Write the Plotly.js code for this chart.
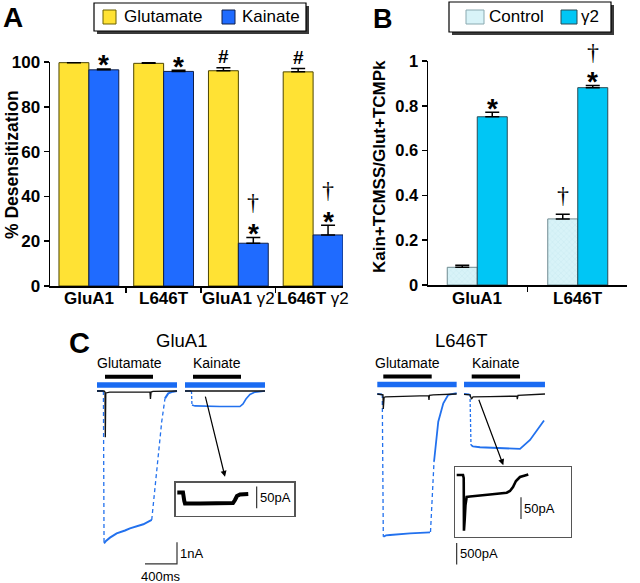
<!DOCTYPE html>
<html><head><meta charset="utf-8">
<script src="https://cdn.plot.ly/plotly-3.0.1.min.js"></script>
<style>html,body{margin:0;padding:0;background:#fff}#chart{width:640px;height:583px}</style>
</head><body><div id="chart"></div>
<script>
// ---------------- Panel A: % desensitization ----------------
const aGroups = ['GluA1', 'L646T', 'GluA1 γ2', 'L646T γ2'];
const aGlutVals = [99.7, 99.4, 96.1, 95.6];
const aGlutErr  = [0.2, 0.3, 1.3, 1.5];
const aKainVals = [96.5, 95.8, 19.1, 22.8];
const aKainErr  = [0.4, 0.5, 2.6, 4.3];
const aKainStar   = [true, true, true, true];
const aKainDagger = [false, false, true, true];
const aGlutHash   = [false, false, true, true];
const aYTicks = [0, 20, 40, 60, 80, 100];

// ---------------- Panel B: ratio ----------------
const bGroups = ['GluA1', 'L646T'];
const bCtlVals = [0.079, 0.295];
const bCtlErr  = [0.009, 0.021];
const bG2Vals  = [0.751, 0.881];
const bG2Err   = [0.020, 0.010];
const bG2Star    = [true, true];
const bG2Dagger  = [false, true];
const bCtlDagger = [false, true];
const bYTicks = [0, 0.2, 0.4, 0.6, 0.8, 1];

// ---------------- Panel C: current traces (time ms, current nA) ----------------
// GluA1 - glutamate sweep
const a1GluCtlT = [0, 88, 100, 104, 110, 160, 400, 662, 668, 676, 700, 1000];
const a1GluCtlI = [0, 0, -0.05, -2.14, -0.09, -0.05, -0.05, -0.05, -0.37, -0.05, -0.02, 0];
const a1GluG2SolidT = [0, 78, null, 88, 112, 162, 246, 350, 412, 579, 684, null, 850, 891, 950, 1000];
const a1GluG2SolidI = [0, 0, null, -7.05, -6.94, -6.79, -6.59, -6.46, -6.36, -6.17, -5.97, null, -0.34, -0.11, -0.03, 0];
const a1GluG2DashT = [80, 88, null, 684, 725, 766, 809, 850];
const a1GluG2DashI = [0, -7.05, null, -5.97, -4.49, -3.10, -1.42, -0.34];
// GluA1 - kainate sweep
const a1KaiCtlT = [1100, 1500, 2100];
const a1KaiCtlI = [0, 0, 0];
const a1KaiG2SolidT = [1100, 1178, null, 1187, 1225, 1537, 1787, 1825, 1862, 1912, 1975, 2100];
const a1KaiG2SolidI = [0, 0, null, -0.65, -0.69, -0.72, -0.72, -0.60, -0.37, -0.16, -0.05, 0];
const a1KaiG2DashT = [1181, 1187];
const a1KaiG2DashI = [0, -0.65];
const a1Sweeps = [[0, 1000], [1100, 2100]];
const a1GluApp = [100, 700];
const a1KaiApp = [1200, 1800];
// GluA1 inset (kainate, control; time ms, current pA)
const a1InsetT = [20, 91, 107, 116, 304, 491, 716, 741, 766, 804, 907];
const a1InsetI = [2.3, 2.3, -17, -23, -23, -22, -22, -15, -5.8, -2.3, -1.2];

// L646T - glutamate sweep
const tGluCtlT = [0, 34, 71, 75, 85, 100, 300, 640, 646, 652, 700, 800, 992];
const tGluCtlI = [0, -0.01, -0.02, -0.35, -0.08, -0.07, -0.06, -0.04, -0.14, -0.03, -0.02, -0.01, 0];
const tGluG2SolidT = [0, 59, null, 77, 109, 159, 409, 659, null, 709, 762, 825, 887, 992];
const tGluG2SolidI = [0, -0.01, null, -3.35, -3.32, -3.31, -3.27, -3.25, null, -1.59, -0.65, -0.22, -0.02, 0.02];
const tGluG2DashT = [62, 75, null, 665, 687, 709];
const tGluG2DashI = [0, -3.35, null, -3.24, -2.49, -1.59];
// L646T - kainate sweep
const tKaiCtlT = [1084, 1159, 1177, 1196, 1409, 1746, 1750, 1759, 2096];
const tKaiCtlI = [-0.01, -0.02, -0.12, -0.07, -0.06, -0.05, -0.12, -0.03, 0];
const tKaiG2SolidT = [1084, 1152, null, 1171, 1196, 1284, 1534, 1784, 1909, 2084];
const tKaiG2SolidI = [0, -0.01, null, -1.20, -1.23, -1.25, -1.27, -1.29, -1.08, -0.62];
const tKaiG2DashT = [1159, 1171];
const tKaiG2DashI = [0, -1.20];
const tSweeps = [[0, 992], [1084, 2096]];
const tGluApp = [75, 680];
const tKaiApp = [1180, 1784];
// L646T inset (pA)
const tInsetT = [21, 100, 109, 112, 121, 131, 146, 187, 437, 646, 687, 725, 762, 812, 875, 916];
const tInsetI = [0, 0, -7, -128, -103.5, -69, -50.6, -49.5, -44.9, -40.7, -36.8, -27.6, -13.8, -4.6, -1.2, 1.2];

// scale bars
const a1ScaleMs = 400, a1ScaleNA = 1;
const tScaleNA = 0.5;
const insetScalePA = 50;

// ---------------- helpers ----------------
const W = 640, H = 583;
const px = x => x / W;
const py = y => 1 - y / H;
const FONT = 'Liberation Sans, Arial, Helvetica, sans-serif';
const SERIF = 'Liberation Serif, Times New Roman, serif';
const YEL = '#ffe234', BLU = '#1f6bff', CTL = '#d8f3f8', G2 = '#00c6f5';
const TRBLUE = '#2271ee';
const zeros = n => new Array(n).fill(0);
const idx = arr => arr.map((_, i) => i);

const traces = [];
// Panel A bars
traces.push({type: 'bar', x: idx(aGroups), y: aGlutVals, width: 0.4, offset: -0.4, xaxis: 'x', yaxis: 'y',
  marker: {color: YEL, line: {color: '#4d4500', width: 1}},
  error_y: {type: 'data', array: aGlutErr, arrayminus: zeros(4), symmetric: false, color: '#000', thickness: 1.5, width: 7},
  hoverinfo: 'skip', showlegend: false});
traces.push({type: 'bar', x: idx(aGroups), y: aKainVals, width: 0.4, offset: 0, xaxis: 'x', yaxis: 'y',
  marker: {color: BLU, line: {color: '#10204a', width: 1}},
  error_y: {type: 'data', array: aKainErr, arrayminus: zeros(4), symmetric: false, color: '#000', thickness: 1.5, width: 7},
  hoverinfo: 'skip', showlegend: false});
// Panel B bars
traces.push({type: 'bar', x: idx(bGroups), y: bCtlVals, width: 0.2985, offset: -0.2985, xaxis: 'x2', yaxis: 'y2',
  marker: {color: CTL, line: {color: '#6f8a90', width: 1},
    pattern: {shape: 'x', fgcolor: '#bfe4ec', bgcolor: CTL, size: 4, solidity: 0.15}},
  error_y: {type: 'data', array: bCtlErr, arrayminus: zeros(2), symmetric: false, color: '#000', thickness: 1.5, width: 7},
  hoverinfo: 'skip', showlegend: false});
traces.push({type: 'bar', x: idx(bGroups), y: bG2Vals, width: 0.2985, offset: 0, xaxis: 'x2', yaxis: 'y2',
  marker: {color: G2, line: {color: '#2b4b55', width: 1}},
  error_y: {type: 'data', array: bG2Err, arrayminus: zeros(2), symmetric: false, color: '#000', thickness: 1.5, width: 7},
  hoverinfo: 'skip', showlegend: false});

function line(x, y, xa, ya, color, width, dash) {
  traces.push({type: 'scatter', mode: 'lines', x: x, y: y, xaxis: xa, yaxis: ya,
    line: {color: color, width: width, dash: dash || 'solid'}, connectgaps: false,
    hoverinfo: 'skip', showlegend: false});
}
// application bars (heights given in current units of each panel)
a1Sweeps.forEach(s => line(s, [0.28, 0.28], 'x3', 'y3', '#1a6bf2', 5.5));
line(a1GluApp, [0.66, 0.66], 'x3', 'y3', '#000', 4);
line(a1KaiApp, [0.66, 0.66], 'x3', 'y3', '#000', 4);
tSweeps.forEach(s => line(s, [0.22, 0.22], 'x4', 'y4', '#1a6bf2', 5.5));
line(tGluApp, [0.41, 0.41], 'x4', 'y4', '#000', 4);
line(tKaiApp, [0.41, 0.41], 'x4', 'y4', '#000', 4);
// GluA1 traces
line(a1GluG2SolidT, a1GluG2SolidI, 'x3', 'y3', TRBLUE, 2);
line(a1GluG2DashT, a1GluG2DashI, 'x3', 'y3', TRBLUE, 1.3, '4px,3px');
line(a1KaiG2SolidT, a1KaiG2SolidI, 'x3', 'y3', TRBLUE, 1.6);
line(a1KaiG2DashT, a1KaiG2DashI, 'x3', 'y3', TRBLUE, 1.3, '3px,2px');
line(a1GluCtlT, a1GluCtlI, 'x3', 'y3', '#111', 1.3);
line(a1KaiCtlT, a1KaiCtlI, 'x3', 'y3', '#111', 1.3);
// L646T traces
line(tGluG2SolidT, tGluG2SolidI, 'x4', 'y4', TRBLUE, 1.8);
line(tGluG2DashT, tGluG2DashI, 'x4', 'y4', TRBLUE, 1.3, '4px,3px');
line(tKaiG2SolidT, tKaiG2SolidI, 'x4', 'y4', TRBLUE, 1.8);
line(tKaiG2DashT, tKaiG2DashI, 'x4', 'y4', TRBLUE, 1.3, '3px,2px');
line(tGluCtlT, tGluCtlI, 'x4', 'y4', '#111', 1.3);
line(tKaiCtlT, tKaiCtlI, 'x4', 'y4', '#111', 1.3);
// scale bars
line([1000 - a1ScaleMs, 1000, 1000], [-8, -8, -8 + a1ScaleNA], 'x3', 'y3', '#333', 1.2);
line([992, 992], [-4, -4 + tScaleNA], 'x4', 'y4', '#333', 1.2);
// insets
line(a1InsetT, a1InsetI, 'x5', 'y5', '#000', 4);
line([1012, 1012], [-34, -34 + insetScalePA], 'x5', 'y5', '#333', 1.2);
line(tInsetT, tInsetI, 'x6', 'y6', '#000', 2.6);
line([825, 825], [-101, -101 + insetScalePA], 'x6', 'y6', '#333', 1.2);

// ---------------- annotations ----------------
const ann = [];
function txt(o) { ann.push(Object.assign({showarrow: false, xref: 'paper', yref: 'paper', xanchor: 'center', yanchor: 'middle'}, o)); }
const bold = (s, f) => ({family: f || FONT, size: s, color: '#000', weight: 'bold'});
const reg = (s, f) => ({family: f || FONT, size: s, color: '#000'});
const fmtG = s => s.replace(' γ2', ' <span style="font-weight:normal">γ2</span>');

// panel letters
txt({x: px(13), y: py(0), yanchor: 'top', text: 'A', font: bold(28)});
txt({x: px(383), y: py(2), yanchor: 'top', text: 'B', font: bold(27)});
txt({x: px(79), y: py(343), text: 'C', font: bold(29)});

// axis titles
txt({x: px(12), y: py(165), text: '% Desensitization', textangle: -90, font: bold(17.5)});
txt({x: px(379), y: py(167), text: 'Kain+TCMSS/Glut+TCMPk', textangle: -90, font: bold(17)});

// x labels
aGroups.forEach((g, i) => txt({xref: 'x', x: i, y: py(299), text: fmtG(g), font: bold(17)}));
bGroups.forEach((g, i) => txt({xref: 'x2', x: i, y: py(299), text: g, font: bold(17)}));

// significance marks
aGroups.forEach((g, i) => {
  const top = aKainVals[i] + aKainErr[i];
  if (aKainStar[i]) txt({xref: 'x', yref: 'y', x: i + 0.2, y: top, yshift: 4, text: '*', font: bold(28)});
  if (aKainDagger[i]) txt({xref: 'x', yref: 'y', x: i + 0.2, y: top, yshift: 35, text: '†', font: reg(24, SERIF)});
  if (aGlutHash[i]) txt({xref: 'x', yref: 'y', x: i - 0.2, y: aGlutVals[i] + aGlutErr[i], yshift: 11, text: '#', font: bold(19)});
});
bGroups.forEach((g, i) => {
  const top = bG2Vals[i] + bG2Err[i];
  if (bG2Star[i]) txt({xref: 'x2', yref: 'y2', x: i + 0.15, y: top, yshift: 4, text: '*', font: bold(28)});
  if (bG2Dagger[i]) txt({xref: 'x2', yref: 'y2', x: i + 0.15, y: top, yshift: 33, text: '†', font: reg(24, SERIF)});
  if (bCtlDagger[i]) txt({xref: 'x2', yref: 'y2', x: i - 0.15, y: bCtlVals[i] + bCtlErr[i], yshift: 19, text: '†', font: reg(24, SERIF)});
});

// legends text
txt({x: px(122), y: py(17), xanchor: 'left', text: 'Glutamate', font: reg(17)});
txt({x: px(240), y: py(17), xanchor: 'left', text: 'Kainate', font: reg(17)});
txt({x: px(487), y: py(17), xanchor: 'left', text: 'Control', font: reg(17)});
txt({x: px(579), y: py(17), xanchor: 'left', text: 'γ2', font: reg(17)});

// panel C labels
txt({xref: 'x3', x: (a1Sweeps[0][0] + a1Sweeps[1][1]) / 2, y: py(340), text: 'GluA1', font: reg(18.5)});
txt({xref: 'x4', x: (tSweeps[0][0] + tSweeps[1][1]) / 2, y: py(340), text: 'L646T', font: reg(18.5)});
txt({xref: 'x3', x: (a1GluApp[0] + a1GluApp[1]) / 2, y: py(363), text: 'Glutamate', font: reg(14)});
txt({xref: 'x3', x: (a1KaiApp[0] + a1KaiApp[1]) / 2, y: py(363), text: 'Kainate', font: reg(14)});
txt({xref: 'x4', x: (tGluApp[0] + tGluApp[1]) / 2, y: py(363), text: 'Glutamate', font: reg(14)});
txt({xref: 'x4', x: (tKaiApp[0] + tKaiApp[1]) / 2, y: py(363), text: 'Kainate', font: reg(14)});
txt({xref: 'x3', yref: 'y3', x: 1000, y: -7.5, xanchor: 'left', xshift: 1, text: a1ScaleNA + 'nA', font: reg(13)});
txt({xref: 'x3', yref: 'y3', x: 1000 - a1ScaleMs / 2, y: -8, yanchor: 'top', yshift: -3, text: a1ScaleMs + 'ms', font: reg(13)});
txt({xref: 'x4', yref: 'y4', x: 992, y: -3.75, xanchor: 'left', xshift: 1, text: (tScaleNA * 1000) + 'pA', font: reg(13)});
txt({xref: 'x5', yref: 'y5', x: 1012, y: -9, xanchor: 'left', xshift: 1, text: insetScalePA + 'pA', font: reg(13)});
txt({xref: 'x6', yref: 'y6', x: 825, y: -76, xanchor: 'left', xshift: 1, text: insetScalePA + 'pA', font: reg(13)});

// arrows from traces to insets
ann.push({xref: 'x3', yref: 'y3', axref: 'x3', ayref: 'y3', x: 1600, y: -3.97, ax: 1350, ay: -0.19,
  text: '', showarrow: true, arrowhead: 2, arrowsize: 1, arrowwidth: 1.2, arrowcolor: '#000', standoff: 0});
ann.push({xref: 'x4', yref: 'y4', axref: 'x4', ayref: 'y4', x: 1575, y: -1.67, ax: 1262, ay: -0.10,
  text: '', showarrow: true, arrowhead: 2, arrowsize: 1, arrowwidth: 1.2, arrowcolor: '#000', standoff: 0});

// legend boxes as shapes
const shapes = [];
function rect(x0, y0, x1, y1, fill, lineCol, lw) {
  shapes.push({type: 'rect', xref: 'paper', yref: 'paper', x0: px(x0), x1: px(x1), y0: py(y1), y1: py(y0),
    fillcolor: fill, line: {color: lineCol || fill, width: lw || 0}, layer: 'above'});
}
rect(97, 6, 309, 34, '#3a3a3a');
rect(94, 3, 306, 31, '#fff', '#000', 1.2);
rect(103, 10, 116, 24, YEL, '#6b6000', 1);
rect(222, 10, 235, 24, BLU, '#10204a', 1);
rect(452, 5, 614, 35, '#3a3a3a');
rect(449, 2, 611, 32, '#fff', '#000', 1.2);
rect(466, 10, 484, 24, CTL, '#8aa9b0', 1);
rect(561, 10, 577, 24, G2, '#2b4b55', 1);

const axBase = {showgrid: false, zeroline: false, fixedrange: true};
const hidden = Object.assign({visible: false}, axBase);
const boxAx = Object.assign({}, axBase, {showline: true, mirror: true, linecolor: '#555', linewidth: 1.3, ticks: '', showticklabels: false});

const layout = {
  width: W, height: H, margin: {l: 0, r: 0, t: 0, b: 0, pad: 0},
  paper_bgcolor: '#fff', plot_bgcolor: 'rgba(0,0,0,0)', barmode: 'overlay', showlegend: false,
  font: {family: FONT, color: '#000'},
  xaxis: Object.assign({}, axBase, {domain: [px(50), px(343)], range: [-0.52, 3.4], anchor: 'y',
    showline: true, linecolor: '#000', linewidth: 1.5, tickvals: [0.5, 1.5, 2.5], ticks: 'outside', ticklen: 5,
    tickwidth: 1.5, tickcolor: '#000', showticklabels: false}),
  yaxis: Object.assign({}, axBase, {domain: [py(286), py(62)], range: [0, 100], anchor: 'x',
    showline: true, linecolor: '#000', linewidth: 1.5, tickvals: aYTicks, ticks: 'outside', ticklen: 5,
    tickwidth: 1.5, tickcolor: '#000', tickfont: bold(17)}),
  xaxis2: Object.assign({}, axBase, {domain: [px(428), px(627)], range: [-0.49, 1.49], anchor: 'y2',
    showline: true, linecolor: '#000', linewidth: 1.5, tickvals: [0.5], ticks: 'outside', ticklen: 5,
    tickwidth: 1.5, tickcolor: '#000', showticklabels: false}),
  yaxis2: Object.assign({}, axBase, {domain: [py(285), py(61)], range: [0, 1], anchor: 'x2',
    showline: true, linecolor: '#000', linewidth: 1.5, tickvals: bYTicks, ticks: 'outside', ticklen: 5,
    tickwidth: 1.5, tickcolor: '#000', tickfont: bold(16.5)}),
  xaxis3: Object.assign({}, hidden, {domain: [px(90), px(300)], range: [-87.5, 2537.5], anchor: 'y3'}),
  yaxis3: Object.assign({}, hidden, {domain: [py(580), py(370)], range: [-8.75, 0.972], anchor: 'x3'}),
  xaxis4: Object.assign({}, hidden, {domain: [px(370), px(560)], range: [-91.25, 2283.75], anchor: 'y4'}),
  yaxis4: Object.assign({}, hidden, {domain: [py(580), py(370)], range: [-4.366, 0.563], anchor: 'x4'}),
  xaxis5: Object.assign({}, boxAx, {domain: [px(175.7), px(294.3)], range: [0, 1482.5], anchor: 'y5'}),
  yaxis5: Object.assign({}, boxAx, {domain: [py(516), py(482.7)], range: [-51.75, 24.8], anchor: 'x5'}),
  xaxis6: Object.assign({}, boxAx, {domain: [px(455), px(571)], range: [0, 1450], anchor: 'y6'}),
  yaxis6: Object.assign({}, boxAx, {domain: [py(536.7), py(467.3)], range: [-142, 17.7], anchor: 'x6'}),
  annotations: ann,
  shapes: shapes
};

Plotly.newPlot('chart', traces, layout, {staticPlot: true, displayModeBar: false});
</script></body></html>
